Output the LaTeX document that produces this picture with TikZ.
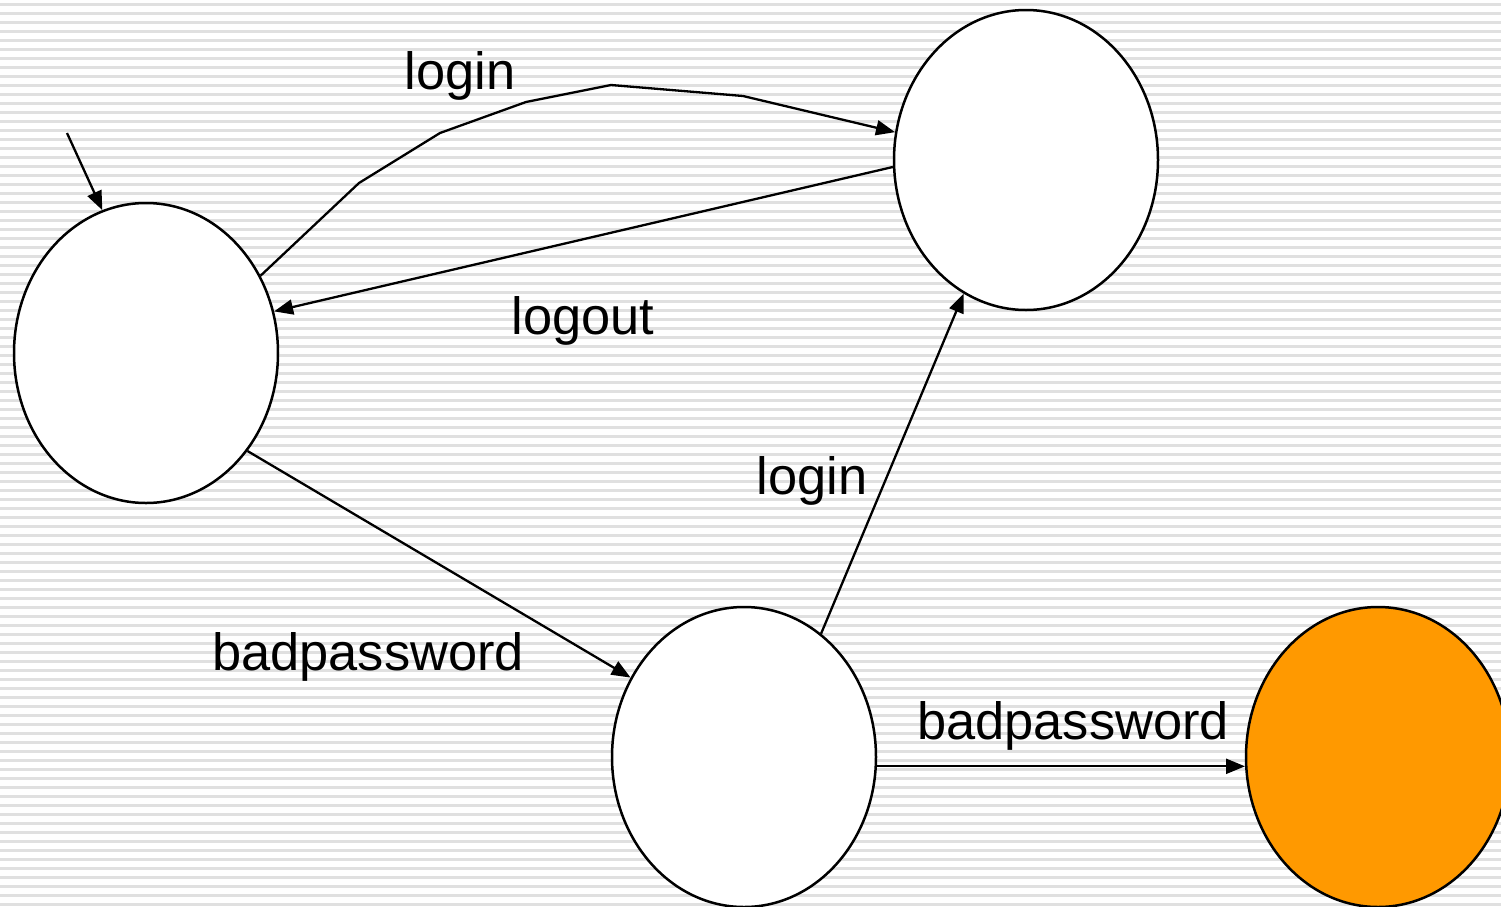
\documentclass[tikz,border=0pt]{standalone}
\usepackage{fontspec}
\setmainfont{Liberation Sans}
\usetikzlibrary{shapes.geometric,arrows.meta}
\definecolor{stripe}{RGB}{224,224,224}
\definecolor{trapfill}{RGB}{255,153,0}
\tikzset{
  state/.style={ellipse, draw=black, line width=1.25pt, fill=white,
    minimum width=132pt, minimum height=150pt, inner sep=0pt},
  trans/.style={line width=1.15pt, -{Triangle[length=9.5pt,width=7.5pt]}},
  lbl/.style={font=\fontsize{26.2pt}{30pt}\selectfont, inner sep=0pt}
}
\begin{document}
\begin{tikzpicture}[x=0.5pt,y=-0.5pt]
  \clip (0,0) rectangle (1501,906);
  % striped backdrop
  \fill[white] (0,0) rectangle (1501,906);
  \foreach \k in {0,...,100}{
    \fill[stripe] (0,{3+9*\k}) rectangle (1501,{5.5+9*\k});
  }
  % states
  \node[state] (A) at (146,353) {};
  \node[state] (B) at (1026,160) {};
  \node[state] (C) at (744,757) {};
  \node[state, fill=trapfill] (D) at (1378,757) {};
  \coordinate (init) at (67,133);
  % transitions
  \draw[trans] (init) -- (A.107.8);
  \draw[trans] (A.34.7) -- (359,183) -- (440,133) -- (526,102) -- (611,85)
     -- (743,96) -- (B.168.5);
  \draw[trans] (B.183.8) -- (A.18.3);
  \draw[trans] (A.-44.7) -- (C.145.5);
  \draw[trans] (C.58.6) -- (B.245.6);
  \draw[trans] (C.-4.3) -- (D.184.3);
  % labels
  \node[lbl] (l1) at (460,76) {login};
  \node[lbl] (l2) at (583,321) {logout};
  \node[lbl] (l3) at (812,481) {login};
  \node[lbl] (l4) at (368,657) {badpassword};
  \node[lbl] (l5) at (1073,726) {badpassword};
\end{tikzpicture}
\end{document}
